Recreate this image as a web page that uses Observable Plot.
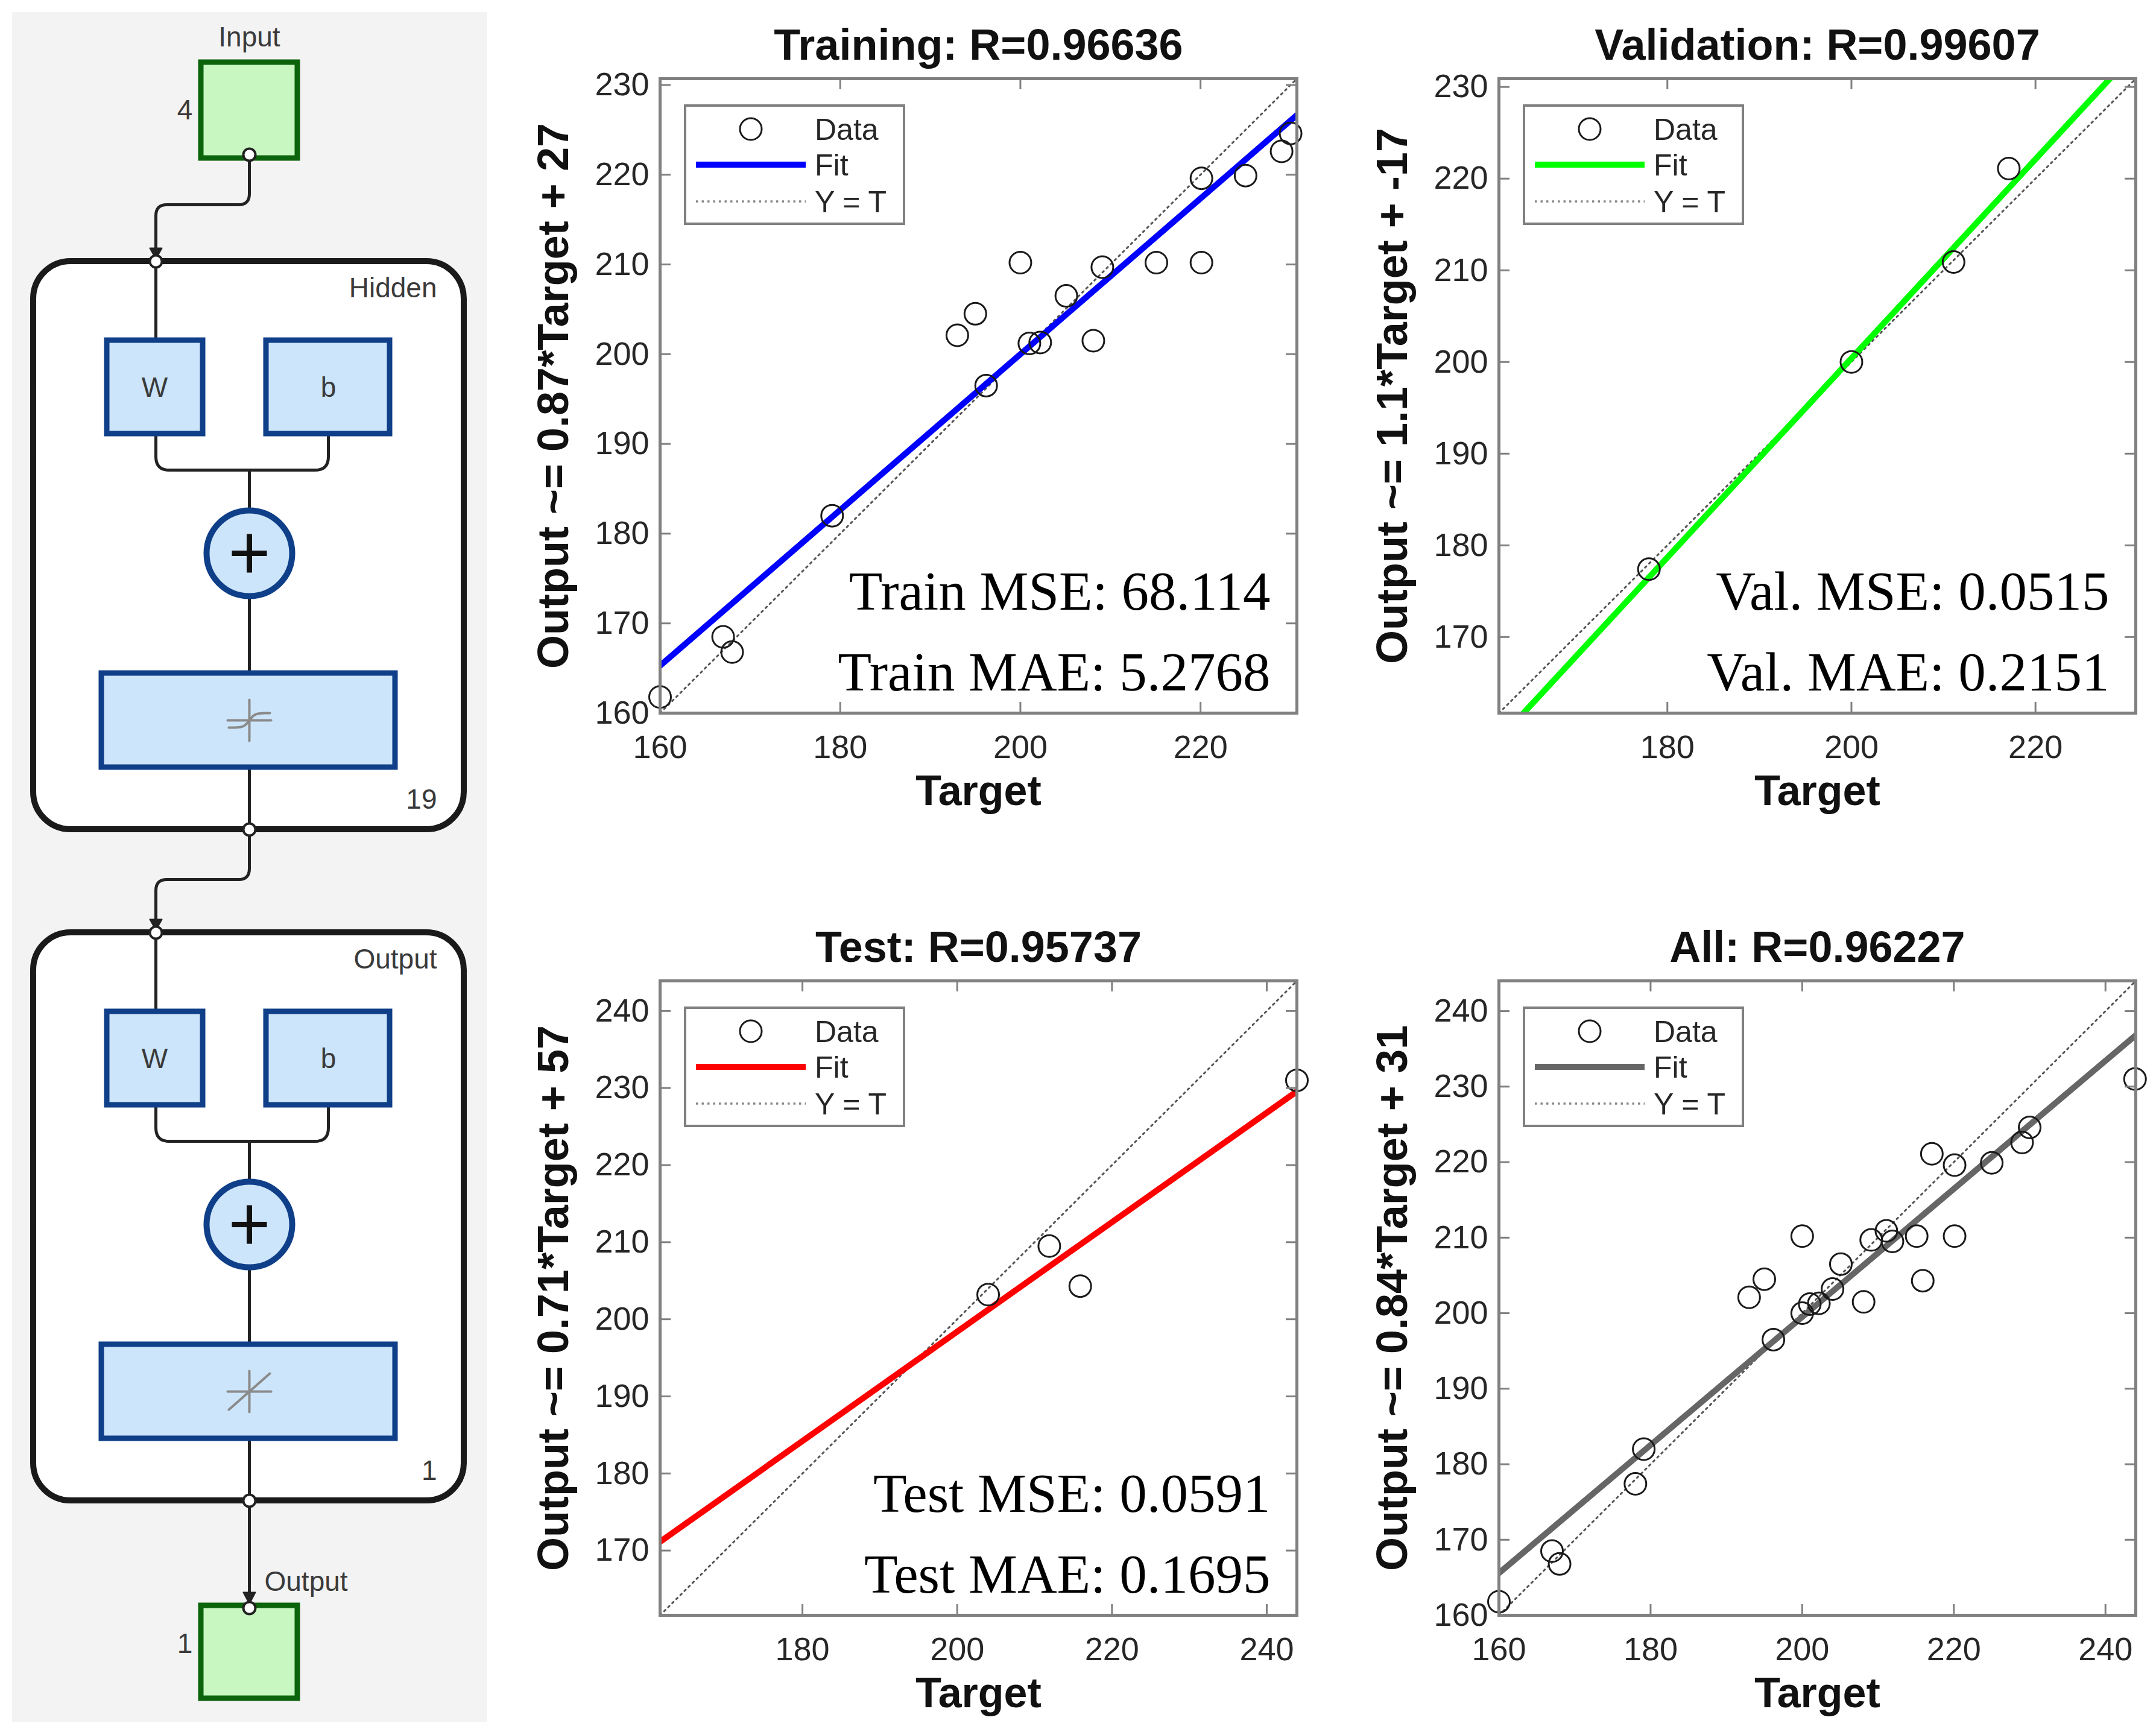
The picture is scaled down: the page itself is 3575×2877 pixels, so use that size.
<!DOCTYPE html>
<html><head><meta charset="utf-8">
<script src="https://cdn.jsdelivr.net/npm/d3@7"></script>
<script src="https://cdn.jsdelivr.net/npm/@observablehq/plot@0.6"></script>
<style>
html,body{margin:0;padding:0;background:#fff;}
#root{position:relative;width:3575px;height:2877px;background:#fff;overflow:hidden;}
#root > svg, #root > div{position:absolute;}
</style></head><body><div id="root"></div>
<script>
// ---------------- data ----------------
const panelTitles = ["Training: R=0.96636", "Validation: R=0.99607", "Test: R=0.95737", "All: R=0.96227"];
const yLabels = ["Output ~= 0.87*Target + 27", "Output ~= 1.1*Target + -17", "Output ~= 0.71*Target + 57", "Output ~= 0.84*Target + 31"];
const xLabel = "Target";
const trainTarget = [160.0,167.0,168.0,179.1,193.0,195.0,196.2,200.0,201.0,202.2,205.1,208.1,209.1,215.1,220.1,220.1,225.0,229.0,230.0];
const trainOutput = [161.8,168.5,166.8,182.0,202.1,204.5,196.5,210.2,201.2,201.3,206.5,201.5,209.7,210.2,219.6,210.2,219.9,222.6,224.6];
const valTarget = [178.0,200.0,211.1,217.1];
const valOutput = [177.4,200.0,210.9,221.1];
const testTarget = [204.0,211.9,215.9,243.9];
const testOutput = [203.2,209.5,204.3,231.0];
const allTarget = [...trainTarget, ...valTarget, ...testTarget];
const allOutput = [...trainOutput, ...valOutput, ...testOutput];
const fitSlope = [0.868, 1.086, 0.710, 0.848];
const fitIntercept = [26.4, -16.8, 56.4, 29.9];
const fitColors = ["#0000ff", "#00ff00", "#ff0000", "#666666"];
const axisDomains = [[160, 230.7], [161.7, 230.9], [161.6, 243.9], [160, 244]];
const xTickValues = [[160,180,200,220], [180,200,220], [180,200,220,240], [160,180,200,220,240]];
const yTickValues = [[160,170,180,190,200,210,220,230], [170,180,190,200,210,220,230], [170,180,190,200,210,220,230,240], [160,170,180,190,200,210,220,230,240]];
const metricLines = [["Train MSE: 68.114","Train MAE: 5.2768"], ["Val. MSE: 0.0515","Val. MAE: 0.2151"], ["Test MSE: 0.0591","Test MAE: 0.1695"], []];
const legendLabels = ["Data", "Fit", "Y = T"];

// network diagram data
const inputLabel = "Input", inputSize = 4;
const layerNames = ["Hidden", "Output"];
const layerSizes = [19, 1];
const layerTransfer = ["tansig", "purelin"];
const outputLabel = "Output", outputSize = 1;

// ---------------- layout ----------------
const root = document.getElementById("root");
const SANS = "'Liberation Sans', Arial, Helvetica, sans-serif";
const SERIF = "'Liberation Serif', 'Times New Roman', serif";
const GRAY = "#808080";
const DOT = {stroke: "#555", strokeWidth: 3, strokeDasharray: "3,6.5"};
const targets = [trainTarget, valTarget, testTarget, allTarget];
const outputs = [trainOutput, valOutput, testOutput, allOutput];
const frameOrigins = [[1094,130],[2485,130],[1094,1626],[2485,1626]];

function scatterPanel(i) {
  const fw = 1056, fh = 1052;
  const mL = 260, mT = 110, mR = 40, mB = 210;
  const dom = axisDomains[i];
  const pts = targets[i].map((t, j) => ({t, o: outputs[i][j]}));
  const fit = dom.map(x => ({x, y: fitSlope[i] * x + fitIntercept[i]}));
  const ident = dom.map(x => ({x, y: x}));
  const tl = 18;
  const marks = [
    Plot.line(ident, {x: "x", y: "y", ...DOT, clip: true}),
    Plot.line(fit, {x: "x", y: "y", stroke: fitColors[i], strokeWidth: 10, clip: true}),
    Plot.dot(pts, {x: "t", y: "o", r: 18, stroke: "#1a1a1a", strokeWidth: 3, fill: "none"}),
    Plot.frame({stroke: GRAY, strokeWidth: 5}),
    Plot.tickX(xTickValues[i], {x: d => d, insetTop: fh - tl, stroke: GRAY, strokeWidth: 3}),
    Plot.tickX(xTickValues[i], {x: d => d, insetBottom: fh - tl, stroke: GRAY, strokeWidth: 3}),
    Plot.tickY(yTickValues[i], {y: d => d, insetRight: fw - tl, stroke: GRAY, strokeWidth: 3}),
    Plot.tickY(yTickValues[i], {y: d => d, insetLeft: fw - tl, stroke: GRAY, strokeWidth: 3}),
    Plot.axisX({ticks: xTickValues[i], tickSize: 0, tickPadding: 36, fontSize: 54, label: null, color: "#262626"}),
    Plot.axisY({ticks: yTickValues[i], tickSize: 0, tickPadding: 18, fontSize: 54, label: null, color: "#262626"}),
    Plot.text([panelTitles[i]], {text: d => d, frameAnchor: "top", dy: -55, lineAnchor: "middle", fontSize: 72, fontWeight: "bold", fill: "#111"}),
    Plot.text([xLabel], {text: d => d, frameAnchor: "bottom", dy: 130, lineAnchor: "middle", fontSize: 70, fontWeight: "bold", fill: "#111"}),
    Plot.text([yLabels[i]], {text: d => d, frameAnchor: "left", dx: -176, rotate: -90, lineAnchor: "middle", textAnchor: "middle", fontSize: 72, fontWeight: "bold", fill: "#111"})
  ];
  if (metricLines[i].length) {
    marks.push(Plot.text([metricLines[i][0]], {text: d => d, frameAnchor: "bottom-right", dx: -44, dy: -172, textAnchor: "end", lineAnchor: "bottom", fontSize: 91, fontFamily: SERIF, fill: "#000"}));
    marks.push(Plot.text([metricLines[i][1]], {text: d => d, frameAnchor: "bottom-right", dx: -44, dy: -38, textAnchor: "end", lineAnchor: "bottom", fontSize: 91, fontFamily: SERIF, fill: "#000"}));
  }
  const chart = Plot.plot({
    width: mL + fw + mR, height: mT + fh + mB,
    marginLeft: mL, marginTop: mT, marginRight: mR, marginBottom: mB,
    style: {fontFamily: SANS, background: "transparent", overflow: "visible"},
    x: {domain: dom}, y: {domain: dom},
    marks
  });
  // legend
  const g = d3.select(chart).append("g").attr("transform", `translate(${mL + 42},${mT + 45})`);
  g.append("rect").attr("width", 363).attr("height", 196).attr("fill", "#fff").attr("stroke", GRAY).attr("stroke-width", 4);
  const rows = [39, 98, 159];
  g.append("circle").attr("cx", 109).attr("cy", rows[0]).attr("r", 18).attr("fill", "none").attr("stroke", "#1a1a1a").attr("stroke-width", 3);
  g.append("line").attr("x1", 18).attr("x2", 200).attr("y1", rows[1]).attr("y2", rows[1]).attr("stroke", fitColors[i]).attr("stroke-width", 10);
  g.append("line").attr("x1", 18).attr("x2", 200).attr("y1", rows[2]).attr("y2", rows[2]).attr("stroke", "#888").attr("stroke-width", 3.5).attr("stroke-dasharray", "3.5,6");
  legendLabels.forEach((lab, k) => {
    g.append("text").attr("x", 215).attr("y", rows[k]).attr("dy", "0.36em").attr("text-anchor", "start")
      .attr("font-size", 50).attr("font-family", SANS).attr("fill", "#262626").text(lab);
  });
  const [fx, fy] = frameOrigins[i];
  chart.style.left = (fx - mL) + "px";
  chart.style.top = (fy - mT) + "px";
  root.appendChild(chart);
}
for (let i = 0; i < 4; i++) scatterPanel(i);

// ---------------- network diagram ----------------
function rounded(pts, r, n = 8) {
  const out = [pts[0]];
  for (let i = 1; i < pts.length - 1; i++) {
    const p0 = pts[i-1], p1 = pts[i], p2 = pts[i+1];
    const d1 = Math.hypot(p1[0]-p0[0], p1[1]-p0[1]), d2 = Math.hypot(p2[0]-p1[0], p2[1]-p1[1]);
    const a = [p1[0] + (p0[0]-p1[0]) * r / d1, p1[1] + (p0[1]-p1[1]) * r / d1];
    const b = [p1[0] + (p2[0]-p1[0]) * r / d2, p1[1] + (p2[1]-p1[1]) * r / d2];
    for (let k = 0; k <= n; k++) {
      const t = k / n, u = 1 - t;
      out.push([u*u*a[0] + 2*u*t*p1[0] + t*t*b[0], u*u*a[1] + 2*u*t*p1[1] + t*t*b[1]]);
    }
  }
  out.push(pts[pts.length - 1]);
  return out;
}
const cx = 413, wx = 258, bx = 544;
const layerTop = [433, 1546], layerH = 942;
const inBox = {x1: 333, x2: 493, y1: 103, y2: 262};
const outBox = {x1: 333, x2: 493, y1: 2662, y2: 2816};
const paths = [];
let pid = 0;
function addPath(pts, r = 18) { const id = pid++; rounded(pts, r).forEach(([x, y]) => paths.push({id, x, y})); }
addPath([[cx, inBox.y2], [cx, 339], [wx, 339], [wx, layerTop[0] - 6]]);
addPath([[cx, layerTop[0] + layerH], [cx, 1458], [wx, 1458], [wx, layerTop[1] - 6]]);
addPath([[cx, layerTop[1] + layerH], [cx, outBox.y1 - 6]]);
const blueBoxes = [], layerRects = [], plusDots = [], plusBars = [], ports = [], labels = [], iconLines = [], arrows = [];
layerTop.forEach((top, li) => {
  layerRects.push({x1: 55, x2: 769, y1: top, y2: top + layerH});
  blueBoxes.push({x1: 177, x2: 336, y1: top + 131, y2: top + 286});
  blueBoxes.push({x1: 441, x2: 646, y1: top + 131, y2: top + 286});
  blueBoxes.push({x1: 168, x2: 655, y1: top + 683, y2: top + 839});
  const pc = top + 484;
  plusDots.push({x: cx, y: pc});
  plusBars.push({x1: cx - 29, x2: cx + 29, y1: pc, y2: pc});
  plusBars.push({x1: cx, x2: cx, y1: pc - 32, y2: pc + 32});
  addPath([[wx, top], [wx, top + 131]]);
  addPath([[wx, top + 286], [wx, top + 346], [cx, top + 346]], 22);
  addPath([[bx, top + 286], [bx, top + 346], [cx, top + 346]], 22);
  addPath([[cx, top + 346], [cx, pc - 71]]);
  addPath([[cx, pc + 71], [cx, top + 683]]);
  addPath([[cx, top + 839], [cx, top + layerH]]);
  ports.push({x: wx, y: top}, {x: cx, y: top + layerH});
  labels.push({x: 724, y: top + 45, text: layerNames[li], anchor: "end"});
  labels.push({x: 724, y: top + 893, text: String(layerSizes[li]), anchor: "end"});
  labels.push({x: 256, y: top + 210, text: "W", anchor: "middle"});
  labels.push({x: 544, y: top + 210, text: "b", anchor: "middle"});
  const ic = top + 761;
  iconLines.push({id: "h" + li, x: cx - 36, y: ic}, {id: "h" + li, x: cx + 36, y: ic});
  iconLines.push({id: "v" + li, x: cx, y: ic - 34}, {id: "v" + li, x: cx, y: ic + 34});
  if (layerTransfer[li] === "tansig") {
    d3.range(-34, 35, 2).forEach(dx => iconLines.push({id: "c" + li, x: cx + dx, y: ic - 12 * Math.tanh(dx / 9)}));
  } else {
    iconLines.push({id: "c" + li, x: cx - 34, y: ic + 30}, {id: "c" + li, x: cx + 34, y: ic - 30});
  }
  const at = top - 4;
  arrows.push({id: li, x: wx - 10, y: at - 18}, {id: li, x: wx + 10, y: at - 18}, {id: li, x: wx, y: at}, {id: li, x: wx - 10, y: at - 18});
});
arrows.push({id: 9, x: cx - 10, y: outBox.y1 - 22}, {id: 9, x: cx + 10, y: outBox.y1 - 22}, {id: 9, x: cx, y: outBox.y1 - 3}, {id: 9, x: cx - 10, y: outBox.y1 - 22});
ports.push({x: cx, y: inBox.y2 - 6}, {x: cx, y: outBox.y1 + 4});
labels.push({x: cx, y: 62, text: inputLabel, anchor: "middle"});
labels.push({x: 306, y: 183, text: String(inputSize), anchor: "middle"});
labels.push({x: 438, y: 2623, text: outputLabel, anchor: "start"});
labels.push({x: 306, y: 2726, text: String(outputSize), anchor: "middle"});

const diagram = Plot.plot({
  width: 820, height: 2877, margin: 0,
  x: {domain: [0, 820], range: [0, 820], axis: null},
  y: {domain: [0, 2877], range: [0, 2877], axis: null},
  style: {fontFamily: SANS, background: "transparent"},
  marks: [
    Plot.rect([{x1: 20, x2: 808, y1: 20, y2: 2855}], {x1: "x1", x2: "x2", y1: "y1", y2: "y2", fill: "#f3f3f3"}),
    Plot.rect(layerRects, {x1: "x1", x2: "x2", y1: "y1", y2: "y2", fill: "#fff", stroke: "#1a1a1a", strokeWidth: 10, rx: 62}),
    Plot.line(paths, {x: "x", y: "y", z: "id", stroke: "#222", strokeWidth: 5}),
    Plot.line(arrows, {x: "x", y: "y", z: "id", fill: "#222", stroke: "#222", strokeWidth: 2}),
    Plot.rect([inBox, outBox], {x1: "x1", x2: "x2", y1: "y1", y2: "y2", fill: "#c8f7c2", stroke: "#0b640b", strokeWidth: 9}),
    Plot.rect(blueBoxes, {x1: "x1", x2: "x2", y1: "y1", y2: "y2", fill: "#cce5fa", stroke: "#0f3f88", strokeWidth: 9}),
    Plot.dot(plusDots, {x: "x", y: "y", r: 71, fill: "#cce5fa", stroke: "#0f3f88", strokeWidth: 10}),
    Plot.link(plusBars, {x1: "x1", x2: "x2", y1: "y1", y2: "y2", stroke: "#111", strokeWidth: 9}),
    Plot.line(iconLines, {x: "x", y: "y", z: "id", stroke: "#8a8a8a", strokeWidth: 4}),
    Plot.dot(ports, {x: "x", y: "y", r: 10, fill: "#fff", stroke: "#222", strokeWidth: 4}),
    Plot.text(labels.filter(d => d.anchor === "middle"), {x: "x", y: "y", text: "text", textAnchor: "middle", lineAnchor: "middle", fontSize: 46, fill: "#3a3a3a"}),
    Plot.text(labels.filter(d => d.anchor === "end"), {x: "x", y: "y", text: "text", textAnchor: "end", lineAnchor: "middle", fontSize: 46, fill: "#3a3a3a"}),
    Plot.text(labels.filter(d => d.anchor === "start"), {x: "x", y: "y", text: "text", textAnchor: "start", lineAnchor: "middle", fontSize: 46, fill: "#3a3a3a"})
  ]
});
diagram.style.left = "0px"; diagram.style.top = "0px";
root.appendChild(diagram);
</script></body></html>
